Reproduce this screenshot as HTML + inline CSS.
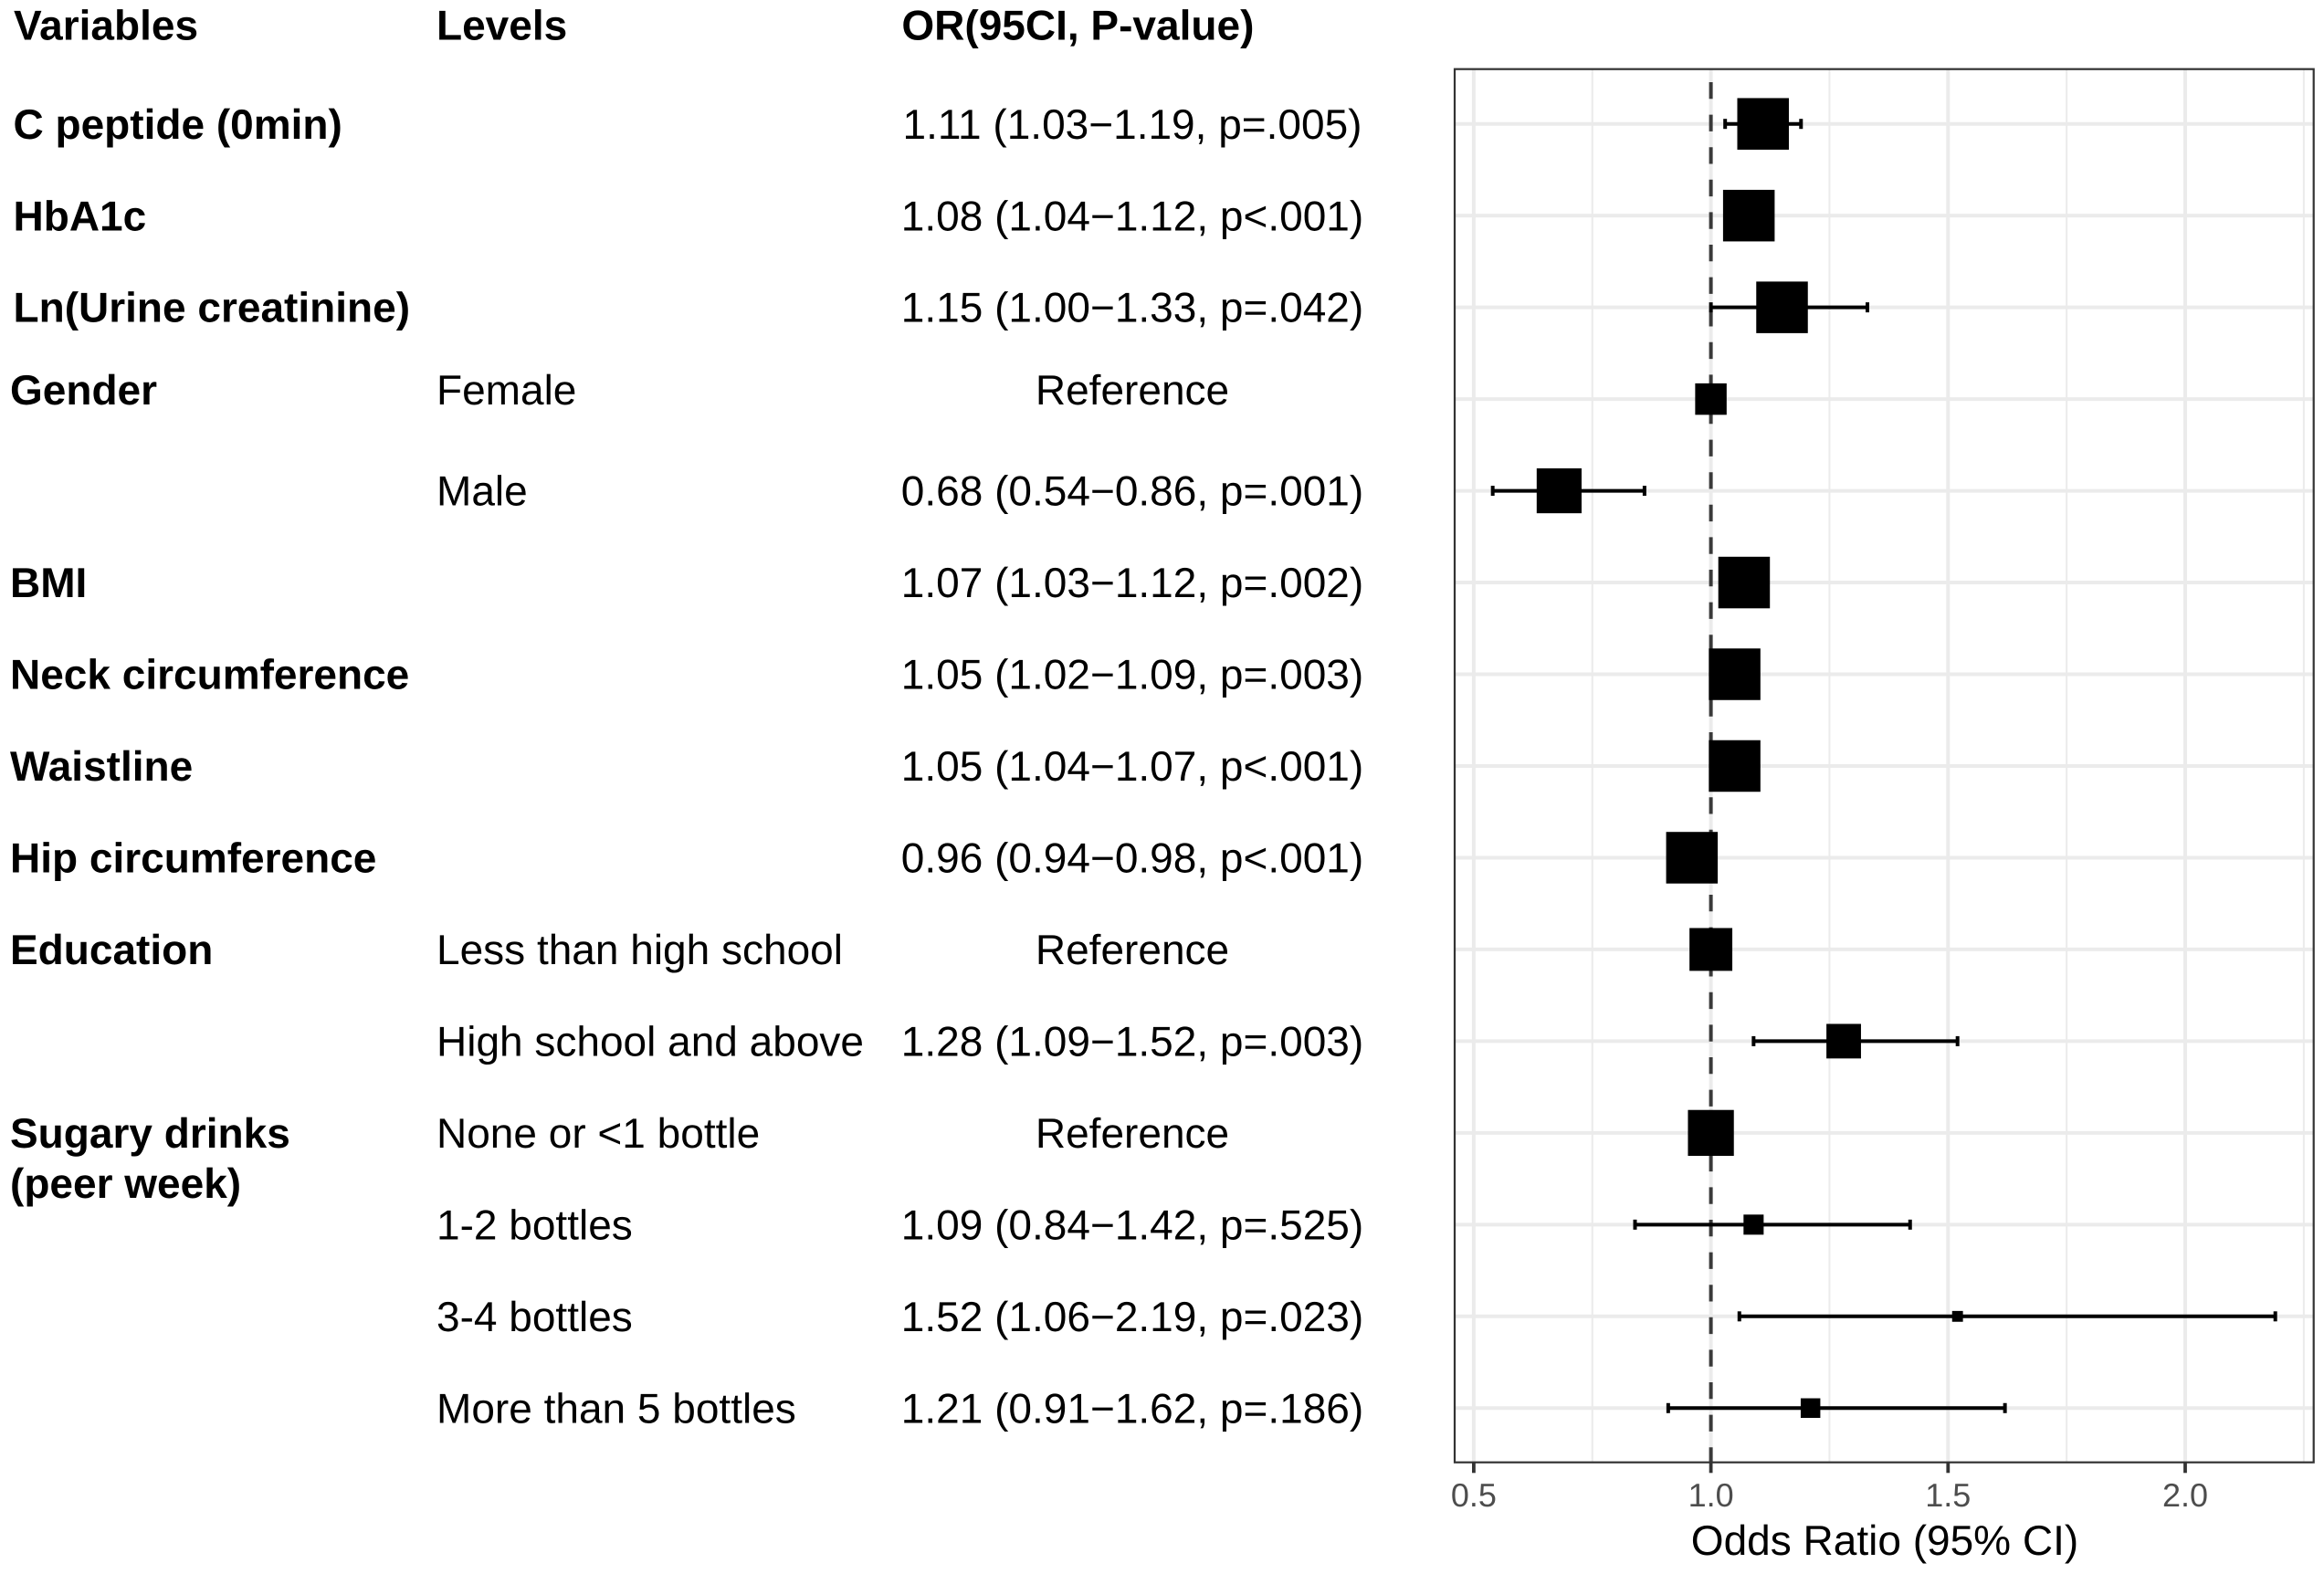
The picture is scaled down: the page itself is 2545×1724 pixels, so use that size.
<!DOCTYPE html>
<html lang="en">
<head>
<meta charset="utf-8">
<title>Odds Ratio Forest Plot</title>
<style>
  html, body { margin: 0; padding: 0; background: #fff; width: 2545px; height: 1724px; overflow: hidden; }
  svg { display: block; font-family: "Liberation Sans", Arial, sans-serif; text-rendering: geometricPrecision; }
  .t { font-size: 46px; fill: #000; }
  .b { font-weight: 700; }
  .m { text-anchor: middle; }
</style>
</head>
<body>
<svg id="root" xmlns="http://www.w3.org/2000/svg" width="2545" height="1724" viewBox="0 0 2545 1724">
  <rect width="2545" height="1724" fill="#fff"/>

  <g>
    <text class="t b" x="15" y="43.5">Variables</text>
    <text class="t b" x="478" y="43.5">Levels</text>
    <text class="t b" x="987.4" y="43.5">OR(95CI, P-value)</text>

    <text class="t b" x="14.5" y="152">C peptide (0min)</text>
    <text class="t b" x="14.5" y="252.5">HbA1c</text>
    <text class="t b" x="14.5" y="352.5">Ln(Urine creatinine)</text>
    <text class="t b" x="11" y="443">Gender</text>
    <text class="t b" x="11" y="654">BMI</text>
    <text class="t b" x="11" y="754.5">Neck circumference</text>
    <text class="t b" x="11" y="855">Waistline</text>
    <text class="t b" x="11" y="955.5">Hip circumference</text>
    <text class="t b" x="11" y="1056">Education</text>
    <text class="t b" x="11" y="1257">Sugary drinks</text>
    <text class="t b" x="11" y="1312">(peer week)</text>

    <text class="t" x="478" y="443">Female</text>
    <text class="t" x="478" y="553.5">Male</text>
    <text class="t" x="478" y="1056">Less than high school</text>
    <text class="t" x="478" y="1156.5">High school and above</text>
    <text class="t" x="478" y="1257">None or &lt;1 bottle</text>
    <text class="t" x="478" y="1357.5">1-2 bottles</text>
    <text class="t" x="478" y="1458">3-4 bottles</text>
    <text class="t" x="478" y="1558.5">More than 5 bottles</text>

    <text class="t m" x="1240" y="152">1.11 (1.03−1.19, p=.005)</text>
    <text class="t m" x="1240" y="252.5">1.08 (1.04−1.12, p&lt;.001)</text>
    <text class="t m" x="1240" y="352.5">1.15 (1.00−1.33, p=.042)</text>
    <text class="t m" x="1240" y="443">Reference</text>
    <text class="t m" x="1240" y="553.5">0.68 (0.54−0.86, p=.001)</text>
    <text class="t m" x="1240" y="654">1.07 (1.03−1.12, p=.002)</text>
    <text class="t m" x="1240" y="754.5">1.05 (1.02−1.09, p=.003)</text>
    <text class="t m" x="1240" y="855">1.05 (1.04−1.07, p&lt;.001)</text>
    <text class="t m" x="1240" y="955.5">0.96 (0.94−0.98, p&lt;.001)</text>
    <text class="t m" x="1240" y="1056">Reference</text>
    <text class="t m" x="1240" y="1156.5">1.28 (1.09−1.52, p=.003)</text>
    <text class="t m" x="1240" y="1257">Reference</text>
    <text class="t m" x="1240" y="1357.5">1.09 (0.84−1.42, p=.525)</text>
    <text class="t m" x="1240" y="1458">1.52 (1.06−2.19, p=.023)</text>
    <text class="t m" x="1240" y="1558.5">1.21 (0.91−1.62, p=.186)</text>
  </g>

  <g id="chart"></g>
</svg>

<script>
const rowNames = ["c-peptide", "hba1c", "urine-creatinine", "female", "male", "bmi", "neck-circumference", "waistline", "hip-circumference", "less-than-high-school", "high-school-and-above", "none-or-less-than-1-bottle", "1-2-bottles", "3-4-bottles", "more-than-5-bottles"];
const oddsRatios = [1.11, 1.08, 1.15, 1.00, 0.68, 1.07, 1.05, 1.05, 0.96, 1.00, 1.28, 1.00, 1.09, 1.52, 1.21];
const ciLower = [1.03, 1.04, 1.00, null, 0.54, 1.03, 1.02, 1.04, 0.94, null, 1.09, null, 0.84, 1.06, 0.91];
const ciUpper = [1.19, 1.12, 1.33, null, 0.86, 1.12, 1.09, 1.07, 0.98, null, 1.52, null, 1.42, 2.19, 1.62];
const precisionWeights = [1.00, 1.00, 1.00, 0.61, 0.87, 1.00, 1.00, 1.00, 1.00, 0.83, 0.67, 0.89, 0.39, 0.21, 0.38];
const majorTicks = [0.5, 1.0, 1.5, 2.0];
const minorTicks = [0.75, 1.25, 1.75, 2.25];
const tickLabels = ["0.5", "1.0", "1.5", "2.0"];
const referenceValue = 1.0;

const NS = "http://www.w3.org/2000/svg";
const chart = document.getElementById("chart");
const panel = { left: 1593, right: 2533.7, top: 75.7, bottom: 1601.7 };
const xScale = v => 1873.6 + (v - 1) * 519.4;
const yScale = i => 135.7 + i * 100.47;
const boxSize = w => w * 56.5;

function make(tag, attrs, parent) {
  const el = document.createElementNS(NS, tag);
  for (const k in attrs) el.setAttribute(k, attrs[k]);
  (parent || chart).appendChild(el);
  return el;
}
function hLine(x1, x2, y, stroke, width) {
  return make("line", { x1: x1, x2: x2, y1: y, y2: y, stroke: stroke, "stroke-width": width });
}
function vLine(x, y1, y2, stroke, width) {
  return make("line", { x1: x, x2: x, y1: y1, y2: y2, stroke: stroke, "stroke-width": width });
}

const panelBg = make("rect", { x: panel.left, y: panel.top, width: panel.right - panel.left, height: panel.bottom - panel.top, fill: "#fff" });



minorTicks.forEach(t => {
  const g = vLine(xScale(t), panel.top, panel.bottom, "#ebebeb", 2);
  
  
});
majorTicks.forEach(t => {
  const g = vLine(xScale(t), panel.top, panel.bottom, "#ebebeb", 4);
  
  
});
rowNames.forEach((name, i) => {
  const g = hLine(panel.left, panel.right, yScale(i), "#ebebeb", 4);
  
  
});

const refLine = vLine(xScale(referenceValue), 90, panel.bottom, "#3a3a3a", 4);
refLine.setAttribute("stroke-dasharray", "18.3 17.3");



rowNames.forEach((name, i) => {
  const y = yScale(i);
  if (ciLower[i] !== null) {
    const g = make("g", {});
    
    
    const lo = xScale(ciLower[i]);
    const hi = xScale(ciUpper[i]);
    g.appendChild(hLine(lo, hi, y, "#000", 4));
    g.appendChild(vLine(lo, y - 5.5, y + 5.5, "#000", 4));
    g.appendChild(vLine(hi, y - 5.5, y + 5.5, "#000", 4));
  }
  const s = boxSize(precisionWeights[i]);
  const box = make("rect", { x: xScale(oddsRatios[i]) - s / 2, y: y - s / 2, width: s, height: s, fill: "#000" });
  
  
});

const border = make("rect", { x: panel.left, y: panel.top, width: panel.right - panel.left, height: panel.bottom - panel.top, fill: "none", stroke: "#333", "stroke-width": 2.2 });



majorTicks.forEach((t, i) => {
  const tick = vLine(xScale(t), panel.bottom, 1613.3, "#333", 3.8);
  
  
  const label = make("text", { x: xScale(t), y: 1650, "text-anchor": "middle", "font-size": 36, fill: "#4d4d4d" });
  label.textContent = tickLabels[i];
  
  
});

const xTitle = make("text", { x: 2064, y: 1703, "text-anchor": "middle", "font-size": 46, fill: "#000" });
xTitle.textContent = "Odds Ratio (95% CI)";


</script>
</body>
</html>
